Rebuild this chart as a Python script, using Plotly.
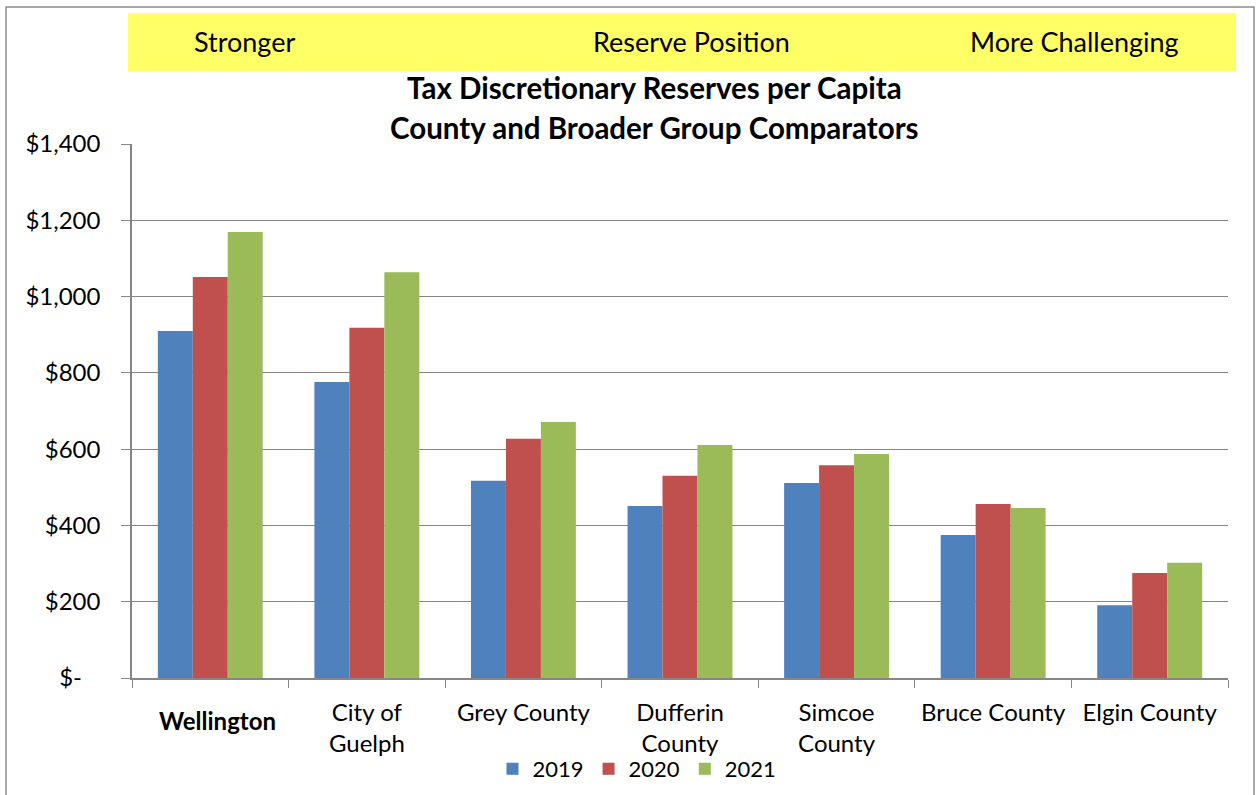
import plotly.graph_objects as go

categories = ["Wellington", "City of<br>Guelph", "Grey County", "Dufferin<br>County",
              "Simcoe<br>County", "Bruce County", "Elgin County"]
years = ["2019", "2020", "2021"]
v2019 = [910, 776, 517, 451, 511, 375, 191]
v2020 = [1051, 918, 627, 530, 558, 456, 275]
v2021 = [1169, 1064, 671, 611, 587, 446, 302]
colors = ["#4F81BD", "#C0504D", "#9BBB59"]
tick_vals = [0, 200, 400, 600, 800, 1000, 1200, 1400]
tick_text = ["$-\u00a0\u00a0\u00a0", "$200", "$400", "$600", "$800", "$1,000", "$1,200", "$1,400"]
banner_labels = ["Stronger", "Reserve Position", "More Challenging"]
title_lines = ["Tax Discretionary Reserves per Capita", "County and Broader Group Comparators"]

W, H = 1259, 795
L, R, T, B = 132, 1228, 144, 678

def px(x):
    return (x - L) / (R - L)

def py(y):
    return (B - y) / (B - T)

FONT = "Lato"
fig = go.Figure()
for name, vals, c in zip(years, [v2019, v2020, v2021], colors):
    fig.add_trace(go.Bar(x=categories, y=vals, name=name, marker_color=c,
                         marker_line_width=0))

shapes = [
    dict(type="rect", xref="paper", yref="paper", x0=px(6), x1=px(1254), y0=py(7), y1=py(800),
         line=dict(color="#8C8C8C", width=1.5), fillcolor="rgba(0,0,0,0)", layer="below"),
    dict(type="rect", xref="paper", yref="paper", x0=px(128), x1=px(1236), y0=py(71), y1=py(13),
         line=dict(width=0), fillcolor="#FFFF66", layer="below"),
]
annotations = []
for lab, cx in zip(banner_labels, [244, 691, 1074]):
    annotations.append(dict(text=lab, xref="paper", yref="paper", x=px(cx), y=py(42),
                            xanchor="center", yanchor="middle", showarrow=False,
                            font=dict(family=FONT, size=27, color="black")))
for line, cy in zip(title_lines, [88, 127]):
    annotations.append(dict(text="<b>" + line + "</b>", xref="paper", yref="paper", x=px(654), y=py(cy),
                            xanchor="center", yanchor="middle", showarrow=False,
                            font=dict(family=FONT, size=29.5, color="black")))
# bold first category label, set slightly lower as in the original
annotations.append(dict(text="<b>" + categories[0] + "</b>", xref="x", yref="paper", x=categories[0],
                        xshift=7, y=py(720), xanchor="center", yanchor="middle", showarrow=False,
                        font=dict(family=FONT, size=24, color="black")))
tick_labels = [""] + categories[1:]

fig.update_layout(
    width=W, height=H,
    margin=dict(l=L, r=W - R, t=T, b=H - B, autoexpand=False),
    paper_bgcolor="white", plot_bgcolor="white",
    barmode="group", bargap=0.33, bargroupgap=0,
    font=dict(family=FONT, size=22, color="black"),
    shapes=shapes, annotations=annotations,
    legend=dict(orientation="h", x=px(637), xanchor="center", y=py(769), yanchor="middle",
                font=dict(family=FONT, size=22), itemwidth=30, tracegroupgap=0,
                bgcolor="rgba(0,0,0,0)"),
    showlegend=True,
)
fig.update_yaxes(range=[0, 1400], tickvals=tick_vals, ticktext=tick_text,
                 showgrid=True, gridcolor="#868686", gridwidth=1,
                 showline=True, linecolor="#868686", linewidth=1.5,
                 ticks="outside", ticklen=9, tickcolor="#868686",
                 ticklabelstandoff=16, tickfont=dict(family=FONT, size=24),
                 zeroline=False, fixedrange=True)
fig.update_xaxes(showline=True, linecolor="#868686", linewidth=1.5,
                 tickmode="array", tickvals=categories, ticktext=tick_labels,
                 ticks="outside", ticklen=8, tickcolor="#868686", tickson="boundaries",
                 tickfont=dict(family=FONT, size=24), ticklabelstandoff=12,
                 fixedrange=True)

fig.write_html("out.html", config={"displayModeBar": False},
               post_script="document.body.style.margin='0';document.body.style.overflow='hidden';")
